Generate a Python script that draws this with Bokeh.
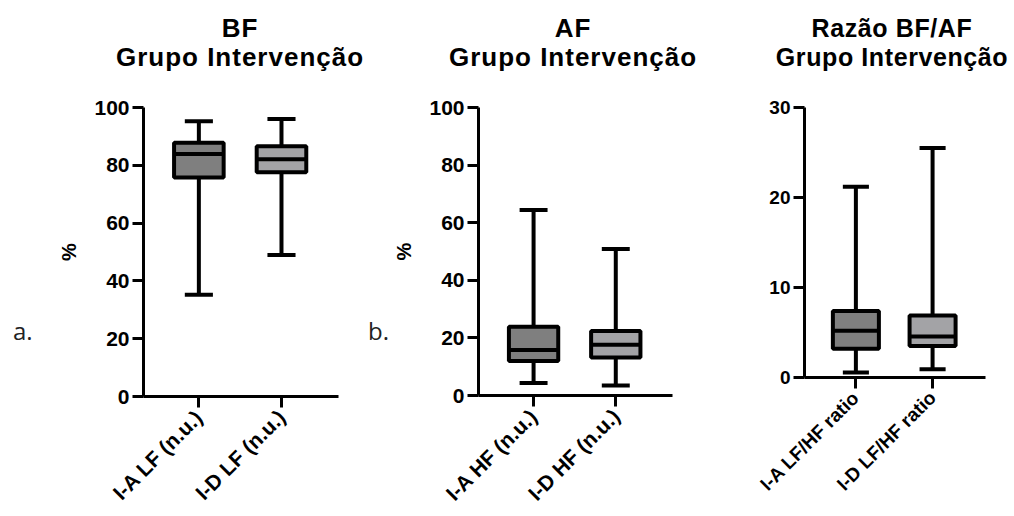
import math
from bokeh.plotting import figure
from bokeh.layouts import row, column
from bokeh.models import Range1d, FixedTicker, ColumnDataSource, Div, Spacer
from bokeh.embed import file_html
from bokeh.resources import INLINE

# ---- data ----
bf_cats = ["I-A LF (n.u.)", "I-D LF (n.u.)"]
bf_min = [35.2, 49.0]
bf_q1 = [75.8, 77.6]
bf_med = [83.9, 82.1]
bf_q3 = [87.8, 86.6]
bf_max = [95.2, 96.0]

af_cats = ["I-A HF (n.u.)", "I-D HF (n.u.)"]
af_min = [4.3, 3.5]
af_q1 = [12.0, 13.2]
af_med = [15.8, 17.6]
af_q3 = [23.9, 22.4]
af_max = [64.4, 50.9]

rt_cats = ["I-A LF/HF ratio", "I-D LF/HF ratio"]
rt_min = [0.56, 0.93]
rt_q1 = [3.2, 3.5]
rt_med = [5.2, 4.55]
rt_q3 = [7.4, 6.9]
rt_max = [21.2, 25.5]

titles = [["BF", "Grupo Intervenção"], ["AF", "Grupo Intervenção"],
          ["Razão BF/AF", "Grupo Intervenção"]]
panel_letters = ["a.", "b."]

box_colors = ["#7f7f7f", "#a3a3a6"]
FONT = "Liberation Sans"
TOP_ROW = 80


def panel(cats, mins, q1, med, q3, maxs, ymax, yticks,
          fw, fh, b_left, b_right, b_top, ylabel, tick_size):
    p = figure(frame_width=fw, frame_height=fh, output_backend="svg", toolbar_location=None,
               x_range=Range1d(-0.67, 1.69), y_range=Range1d(0, ymax),
               min_border_left=b_left, min_border_right=b_right,
               min_border_top=b_top, min_border_bottom=10, title_location=None)
    p.margin = 0
    p.outline_line_color = None
    p.grid.visible = False
    p.background_fill_color = "white"
    p.border_fill_color = "white"

    xs = list(range(len(cats)))
    hw = 0.30
    cw = 0.17
    src = ColumnDataSource(dict(
        x=xs, mn=mins, q1=q1, med=med, q3=q3, mx=maxs,
        xl=[x - hw for x in xs], xr=[x + hw for x in xs],
        cl=[x - cw for x in xs], cr=[x + cw for x in xs],
        color=box_colors[:len(cats)]))
    lw = 4
    p.segment(x0="x", y0="q3", x1="x", y1="mx", source=src, line_color="black", line_width=lw)
    p.segment(x0="x", y0="q1", x1="x", y1="mn", source=src, line_color="black", line_width=lw)
    p.segment(x0="cl", y0="mx", x1="cr", y1="mx", source=src, line_color="black", line_width=lw)
    p.segment(x0="cl", y0="mn", x1="cr", y1="mn", source=src, line_color="black", line_width=lw)
    p.vbar(x="x", width=2 * hw, bottom="q1", top="q3", source=src,
           fill_color="color", line_color="black", line_width=lw)
    p.segment(x0="xl", y0="med", x1="xr", y1="med", source=src, line_color="black", line_width=lw)

    for ax in (p.xaxis[0], p.yaxis[0]):
        ax.axis_line_width = 3
        ax.axis_line_color = "black"
        ax.major_tick_line_width = 3
        ax.major_tick_line_color = "black"
        ax.major_tick_out = 11
        ax.major_tick_in = 0
        ax.minor_tick_out = 0
        ax.minor_tick_in = 0
        ax.major_label_text_font = FONT
        ax.major_label_text_font_style = "bold"
        ax.major_label_text_font_size = f"{tick_size}px"
        ax.major_label_text_color = "black"
        ax.major_label_standoff = 3

    p.xaxis.ticker = FixedTicker(ticks=xs)
    p.xaxis.major_label_overrides = {i: c for i, c in enumerate(cats)}
    p.xaxis.major_label_orientation = math.pi / 4
    p.xaxis.major_label_standoff = 6
    p.xaxis.axis_label = None

    p.yaxis.ticker = FixedTicker(ticks=yticks)
    if ylabel:
        p.yaxis.axis_label = ylabel
        p.yaxis.axis_label_text_font = FONT
        p.yaxis.axis_label_text_font_style = "bold"
        p.yaxis.axis_label_text_font_size = "20px"
        p.yaxis.axis_label_text_color = "black"
        p.yaxis.axis_label_standoff = 11
    return p


def title_div(lines, width, size, spacing):
    html = (f'<div style="width:{width}px;padding-top:14px;text-align:center;'
            'font-family:\'Liberation Sans\',Arial,sans-serif;'
            f'font-weight:bold;font-size:{size}px;letter-spacing:{spacing}px;line-height:29px;'
            'color:#000;white-space:nowrap">'
            + "<br>".join(lines) + "</div>")
    return Div(text=html, width=width, height=TOP_ROW, margin=0)


def letter_div(txt, width, pad_left):
    html = (f'<div style="padding-top:239px;padding-left:{pad_left}px;font-family:\'Open Sans\',sans-serif;'
            f'font-size:24px;line-height:24px;color:#222">{txt}</div>')
    return Div(text=html, width=width, height=300, margin=0)


p1 = panel(bf_cats, bf_min, bf_q1, bf_med, bf_q3, bf_max,
           100, [0, 20, 40, 60, 80, 100], 195, 289, 103, 24, 105 - TOP_ROW, "%", 21)
p2 = panel(af_cats, af_min, af_q1, af_med, af_q3, af_max,
           100, [0, 20, 40, 60, 80, 100], 194, 288, 86, 70, 107 - TOP_ROW, "%", 21)
p3 = panel(rt_cats, rt_min, rt_q1, rt_med, rt_q3, rt_max,
           30, [0, 10, 20, 30], 181, 270, 62, 23, 107 - TOP_ROW, None, 19)

top = row(Spacer(width=100, height=TOP_ROW, margin=0), title_div(titles[0], 280, 26, 1),
          Spacer(width=53, height=TOP_ROW, margin=0), title_div(titles[1], 280, 26, 1),
          Spacer(width=59, height=TOP_ROW, margin=0), title_div(titles[2], 240, 25, 0.6),
          spacing=0, margin=0)
bottom = row(letter_div(panel_letters[0], 40, 13), p1, letter_div(panel_letters[1], 28, 6), p2, p3,
             spacing=0, margin=0)
layout = column(top, bottom, spacing=0, margin=0)
open("out.html", "w").write(file_html(layout, INLINE))
